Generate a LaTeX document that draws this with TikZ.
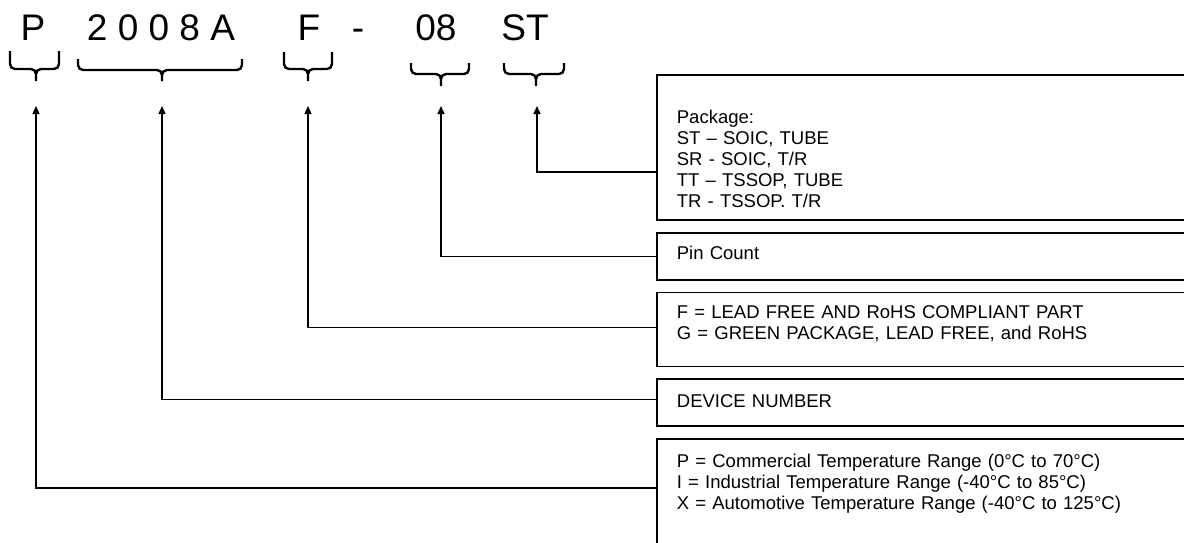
\documentclass[tikz,border=0pt]{standalone}
\usepackage{fontspec}
\setmainfont{Liberation Sans}
\usetikzlibrary{positioning,arrows.meta}
\tikzset{
    >={Triangle[length=8pt,width=7pt]},
    infobox/.style={
        rectangle,
        draw=black, line width=1.8pt,
        text width=504pt,
        inner xsep=20pt, inner ysep=0pt,
        align=left,
        font=\fontsize{18.5}{21}\selectfont
    },
    partcode/.style={
        anchor=base,
        inner sep=0pt,
        font=\fontsize{37}{40}\selectfont
    },
    line/.style={draw, line width=1.4pt, ->},
    tuborg/.style={draw, line width=2.4pt, rounded corners=5pt}
}

\begin{document}
\begin{tikzpicture}[x=1pt, y=-1pt, node distance=11pt]
    \useasboundingbox (0,0) rectangle (1184,542);

    \node[partcode] (P) at (33,40) {P};
    \node[partcode] (devno) at (161,40) {2 0 0 8 A};
    \node[partcode] (F) at (309,40) {F};
    \node[partcode] (dash) at (358,40) {-};
    \node[partcode] (pins) at (436,40) {08};
    \node[partcode] (pkg) at (525,40) {ST};

    \draw[tuborg] (10,51) |- (36,69) -- (36,81) (59,51) |- (36,69) -- (36,81);
    \draw[tuborg] (78,59) |- (162,70) -- (162,81) (242,59) |- (162,70) -- (162,81);
    \draw[tuborg] (284,52) |- (308,69) -- (308,81) (332,52) |- (308,69) -- (308,81);
    \draw[tuborg] (411,63) |- (441,74) -- (441,86) (469,63) |- (441,74) -- (441,86);
    \draw[tuborg] (504,63) |- (536,74) -- (536,86) (564,63) |- (536,74) -- (536,86);

    \coordinate (tipP) at (36,106);
    \coordinate (tipDev) at (162,106);
    \coordinate (tipF) at (308,106);
    \coordinate (tipPins) at (441,106);
    \coordinate (tipPkg) at (537,106);

    \node[infobox, anchor=north west, text height=49pt, text depth=96pt] (pkgbox) at (656,74)
        {Package:\\ST – SOIC, TUBE\\SR - SOIC, T/R\\TT – TSSOP, TUBE\\TR - TSSOP. T/R};
    \node[infobox, below=of pkgbox, text height=27pt, text depth=20pt] (pinbox) {Pin Count};
    \node[infobox, below=of pinbox, text height=26pt, text depth=48pt] (leadbox)
        {F = LEAD FREE AND RoHS COMPLIANT PART\\G = GREEN PACKAGE, LEAD FREE, and RoHS};
    \node[infobox, below=of leadbox, text height=28pt, text depth=19pt] (devbox) {DEVICE NUMBER};
    \node[infobox, below=of devbox, text height=28pt, text depth=93pt] (tempbox)
        {P = Commercial Temperature Range (0°C to 70°C)\\
         I = Industrial Temperature Range (-40°C to 85°C)\\
         X = Automotive Temperature Range (-40°C to 125°C)};

    \draw[line] ([yshift=-24.5pt]pkgbox.west) -| (tipPkg);
    \draw[line] (pinbox.west) -| (tipPins);
    \draw[line] ([yshift=2pt]leadbox.west) -| (tipF);
    \draw[line] ([yshift=3.5pt]devbox.west) -| (tipDev);
    \draw[line] ([yshift=11.5pt]tempbox.west) -| (tipP);
\end{tikzpicture}
\end{document}
